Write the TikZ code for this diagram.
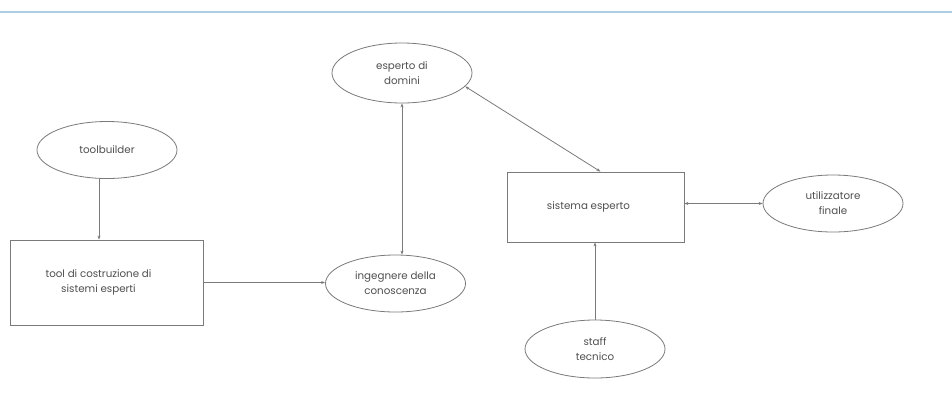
\documentclass[tikz,border=0pt]{standalone}
\usepackage{fontspec}
\setmainfont{Poppins}
\usetikzlibrary{arrows.meta,shapes.geometric}
\definecolor{linecol}{HTML}{7A7A7A}
\definecolor{txtcol}{HTML}{505050}
\definecolor{topblue}{HTML}{A9CDE2}
\tikzset{
  oval/.style={ellipse, draw=linecol, line width=0.8pt, minimum width=140pt, minimum height=57pt, inner sep=0pt, align=center, text=txtcol, font=\fontsize{10.3}{15}\selectfont},
  box/.style={rectangle, draw=linecol, line width=0.8pt, inner sep=0pt, align=center, text=txtcol, font=\fontsize{10.3}{15}\selectfont},
  conn/.style={draw=linecol, line width=0.8pt},
  tip/.style={-{Stealth[length=4pt,width=3pt]}},
  tips/.style={{Stealth[length=4pt,width=3pt]}-{Stealth[length=4pt,width=3pt]}}
}
\begin{document}
\begin{tikzpicture}[x=1pt,y=-1pt]
\useasboundingbox[fill=white] (0,0) rectangle (952,400);
\draw[topblue, line width=2pt] (0,12) coordinate (tl) -- (952,12) coordinate (tr);
\node[oval] (tb) at (107,150) {toolbuilder};
\node[box, minimum width=193pt, minimum height=85pt] (tool) at (106.5,282.5) {\hspace*{-16pt}tool di costruzione di\\\hspace*{-16pt}sistemi esperti};
\node[oval] (ing) at (395.5,283.5) {ingegnere della\\conoscenza};
\node[oval, minimum height=60pt] (esp) at (402,73) {esperto di\\domini};
\node[box, minimum width=177pt, minimum height=70pt] (sis) at (595.5,207) {\hspace*{-14pt}sistema esperto};
\node[oval] (util) at (833,203.5) {utilizzatore\\finale};
\node[oval, minimum height=58pt] (staff) at (595,349) {staff\\tecnico};
\draw[conn, tip] ([xshift=-8pt]tb.south) -- ([xshift=-8pt]tb.south |- tool.north);
\draw[conn, tip] (tool.east) -- (tool.east -| ing.west);
\draw[conn, tips] (esp.south) -- (esp.south |- ing.north);
\draw[conn, tips] (esp.-12) -- ([xshift=5pt]sis.north);
\draw[conn, tips] (util.west -| sis.east) -- (util.west);
\draw[conn, tip] (staff.north) -- (staff.north |- sis.south);
\end{tikzpicture}
\end{document}
